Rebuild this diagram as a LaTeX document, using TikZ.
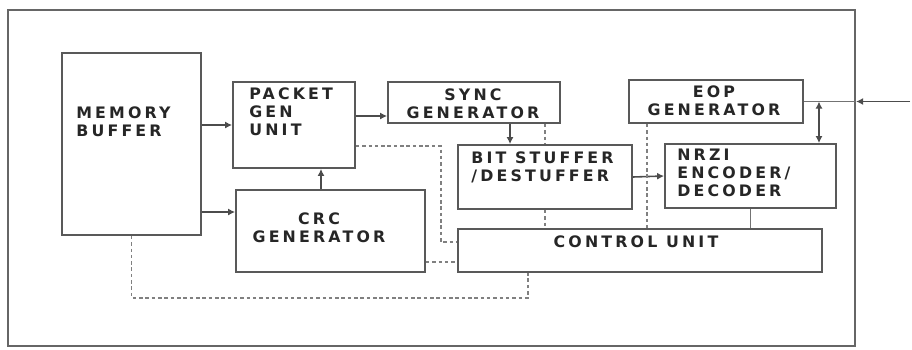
\documentclass[tikz,border=0pt]{standalone}
\usepackage{fontspec}
\newfontfamily\blkfont[LetterSpace=20]{DejaVu Sans}
\usetikzlibrary{positioning,calc,arrows.meta}

\begin{document}
\begin{tikzpicture}[x=0.02cm,y=-0.02cm,
  blk/.style={draw=black!65,line width=1pt,rectangle,inner sep=0pt},
  txt/.style={font=\blkfont\bfseries\fontsize{9}{10.2}\selectfont,text=black!85,inner sep=0pt},
  arr/.style={draw=black!70,line width=0.9pt,-{Latex[length=1.4mm,width=1.4mm]}},
  arrb/.style={draw=black!70,line width=0.9pt,{Latex[length=1.4mm,width=1.4mm]}-{Latex[length=1.4mm,width=1.4mm]}},
  ln/.style={draw=black!55,line width=0.9pt},
  dot/.style={draw=black!50,line width=0.9pt,dash pattern=on 2pt off 1.6pt}]
\useasboundingbox (0,0) rectangle (912,349);
\node[blk,draw=black!60,line width=1.3pt,minimum width=16.94cm,minimum height=6.72cm] (sys) at (431.5,178) {};
\node[blk,minimum width=2.78cm,minimum height=3.64cm] (mem) at (131.5,144) {};
\node[blk,minimum width=2.44cm,minimum height=1.72cm] (pkt) at (294,125) {};
\node[blk,minimum width=3.78cm,minimum height=1.64cm] (crc) at (330.5,231) {};
\node[blk,minimum width=3.44cm,minimum height=0.82cm] (sync) at (474,102.5) {};
\node[blk,minimum width=3.48cm,minimum height=1.28cm] (bit) at (545,177) {};
\node[blk,minimum width=3.48cm,minimum height=0.86cm] (eop) at (716,101.5) {};
\node[blk,minimum width=3.42cm,minimum height=1.28cm] (nrzi) at (750.5,176) {};
\node[blk,minimum width=7.28cm,minimum height=0.86cm] (ctrl) at (640,250.5) {};

\node[txt,align=left,anchor=west] (memt) at (76,122) {MEMORY\\BUFFER};
\node[txt,align=left,anchor=west] (pktt) at (249,112) {PACKET\\GEN\\UNIT};
\node[txt,align=center] (crct) at (319,228) {CRC\\GENERATOR};
\node[txt,align=center] (synct) at (473,104) {SYNC\\GENERATOR};
\node[txt,align=left,anchor=west] (bitt) at (471,167) {BIT STUFFER\\/DESTUFFER};
\node[txt,align=center] (eopt) at (714,101) {EOP\\GENERATOR};
\node[txt,align=left,anchor=west] (nrzit) at (677,173) {NRZI\\ENCODER/\\DECODER};
\node[txt] (ctrlt) at (636,242) {CONTROL UNIT};

\coordinate (out) at (910,101.5);

\draw[arr] (mem.east |- pkt.west) -- (pkt.west);
\draw[arr] ([yshift=0.38cm]crc.west -| mem.east) -- ([yshift=0.38cm]crc.west);
\draw[arr] ([xshift=0.54cm]pkt.south |- crc.north) -- ([xshift=0.54cm]pkt.south);
\draw[arr] ([yshift=0.18cm]pkt.east) -- ([yshift=0.18cm]pkt.east -| sync.west);
\draw[arr] ([xshift=-0.7cm]bit.north |- sync.south) -- ([xshift=-0.7cm]bit.north);
\draw[arr] (bit.east) -- (nrzi.west);
\draw[ln] (eop.east) -- (sys.east |- eop.east);
\draw[arr] (out) -- (sys.east |- eop.east);
\draw[arrb] ([xshift=1.37cm]nrzi.north |- eop.east) -- ([xshift=1.37cm]nrzi.north);
\draw[ln] (nrzi.south) -- (nrzi.south |- ctrl.north);

\draw[dot] (bit.north |- sync.south) -- (bit.north);
\draw[dot] (bit.south) -- (bit.south |- ctrl.north);
\draw[dot] ([xshift=-1.38cm]eop.south) -- ([xshift=-1.38cm]eop.south |- ctrl.north);
\draw[dot] ([yshift=-0.42cm]pkt.east) -- ++(1.7cm,0) |- ([yshift=0.17cm]ctrl.west);
\draw[dot] ([yshift=-0.23cm]ctrl.west -| crc.east) -- ([yshift=-0.23cm]ctrl.west);
\draw[dot] (mem.south) -- ++(0,-1.24cm) -| ([xshift=-2.24cm]ctrl.south);
\end{tikzpicture}
\end{document}
